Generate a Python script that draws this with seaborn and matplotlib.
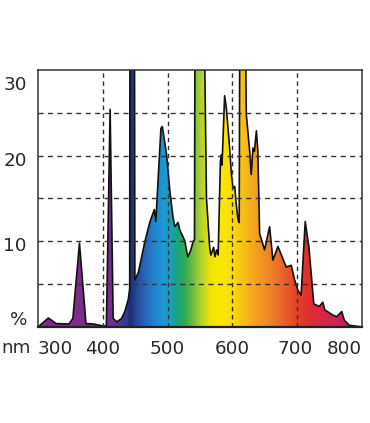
import numpy as np
import matplotlib
matplotlib.use("Agg")
import matplotlib.pyplot as plt
import seaborn as sns
import pandas as pd
from matplotlib.colors import LinearSegmentedColormap
from matplotlib.patches import Polygon

# ---- data ----
wavelength = [300, 316, 328, 347.7, 353.8, 364, 374, 385.6, 398.5, 404, 405.5, 411.3, 416, 421.6,
              429, 434, 439.5, 441.5, 442, 448.7, 449.5, 455, 465, 472.8, 479.5, 481.8, 489.7,
              491.8, 498.5, 503.6, 508, 511, 516, 519, 524, 526.7, 531, 535, 539.5, 541.5, 542.5,
              554.9, 560, 565, 566.8, 571, 573, 575.6, 578, 581.5, 583, 584, 588, 590.6, 594.9,
              598.5, 601, 603.6, 606, 608.7, 610.5, 611.8, 618.5, 621.5, 626.7, 629, 631.8, 634,
              637, 639.3, 642, 649.7, 657.4, 662.5, 670.3, 683, 690.8, 696, 701, 706, 712.4,
              716.4, 718, 725.6, 734, 739.5, 742.6, 754.8, 761, 768.8, 772.6, 780.5, 800]
intensity = [0, 1.05, 0.4, 0.35, 1.0, 9.8, 0.4, 0.35, 0.15, 0.1, 0.2, 25.4, 1.0, 0.6,
             1.0, 1.8, 3.3, 4.5, 45, 45, 5.5, 6.4, 10.0, 12.3, 13.7, 12.3, 23.2,
             23.4, 20.1, 15.8, 13.0, 11.7, 12.2, 11.3, 10.5, 10.0, 8.2, 8.8, 10.0, 10.2, 45,
             45, 15.0, 9.2, 8.4, 9.3, 8.2, 9.0, 8.4, 19.3, 20.1, 18.9, 27.0, 25.6, 21.7,
             17.8, 16.2, 16.4, 14.3, 12.5, 12.2, 45, 45, 24.8, 20.5, 17.8, 20.9, 20.5,
             22.9, 20.5, 10.9, 9.0, 11.7, 7.8, 9.4, 7.0, 7.2, 5.5, 4.3, 3.7, 12.3,
             10.2, 9.4, 2.7, 2.4, 2.9, 2.0, 1.4, 1.2, 1.8, 0.8, 0.2, 0]

y_label_pos = [1.1, 9.7, 19.6, 28.5]
y_labels = ["%", "10", "20", "30"]
x_label_pos = [327, 399, 499, 600, 697, 773]
x_labels = ["300", "400", "500", "600", "700", "800"]
x_grid = [400, 500, 600, 700]
y_grid = [5, 10, 15, 20, 25]

# spectral gradient stops (nm, colour)
grad_nm = [300, 405, 418, 428, 437, 442, 449, 458, 470, 482, 495, 506, 516, 527, 540,
           553, 566, 578, 600, 614, 632, 652, 672, 695, 715, 740, 770, 800]
grad_col = ["#7b2d8b", "#7b2d8b", "#6b2f8e", "#4b3592", "#2e3a8e", "#1f2a6b", "#24408f",
            "#2a55a8", "#2670bf", "#1f88cf", "#1b99d6", "#1a9fb0", "#1aa47a", "#30ab50",
            "#72bd40", "#b7d42c", "#ece400", "#fae800", "#fbe000", "#f8c414", "#f5a81e",
            "#f18c26", "#ec6e29", "#e6482a", "#e1302d", "#da2645", "#d01e58", "#c81a5e"]

# ---- figure ----
sns.set_theme(style="white")
plt.rcParams["font.family"] = ["DejaVu Sans"]
fig = plt.figure(figsize=(3.7, 4.23), dpi=100)
ax = fig.add_axes([38 / 370, (423 - 327) / 423, (362 - 38) / 370, (327 - 70) / 423])

xmin, xmax, ymin, ymax = 300, 800, 0, 30
ax.set_xlim(xmin, xmax)
ax.set_ylim(ymin, ymax)

df = pd.DataFrame({"nm": wavelength, "val": intensity})

# gradient fill clipped by the spectrum polygon
span = (xmax - xmin)
cmap = LinearSegmentedColormap.from_list(
    "spec", [((n - xmin) / span, c) for n, c in zip(grad_nm, grad_col)], N=1024)
grad = np.linspace(0, 1, 1000).reshape(1, -1)
im = ax.imshow(grad, cmap=cmap, extent=[xmin, xmax, ymin, 50], aspect="auto",
               origin="lower", zorder=1, interpolation="bilinear")
verts = list(zip(wavelength, intensity)) + [(wavelength[-1], 0), (wavelength[0], 0)]
poly = Polygon(verts, closed=True, transform=ax.transData, facecolor="none", edgecolor="none")
ax.add_patch(poly)
im.set_clip_path(poly)
ax.set_xlim(xmin, xmax)
ax.set_ylim(ymin, ymax)

# outline
sns.lineplot(data=df, x="nm", y="val", color="#111111", linewidth=1.2, sort=False,
             estimator=None, ax=ax, zorder=3)

# dashed grid on top
for g in x_grid:
    ax.axvline(g, color="#333333", lw=1.0, ls=(0, (3.2, 2.6)), zorder=4)
for g in y_grid:
    ax.axhline(g, color="#333333", lw=1.0, ls=(0, (3.6, 3.2)), zorder=4)

ax.set_xlabel("")
ax.set_ylabel("")
ax.set_xticks(x_label_pos)
ax.set_xticklabels(x_labels)
ax.set_yticks(y_label_pos)
ax.set_yticklabels(y_labels)
ax.tick_params(axis="both", length=0, labelsize=13.2, colors="#2a2a2a")
ax.tick_params(axis="x", pad=9)
ax.tick_params(axis="y", pad=8)
for s in ax.spines.values():
    s.set_color("#333333")
    s.set_linewidth(1.1)
    s.set_zorder(5)
ax.spines["bottom"].set_linewidth(1.6)
ax.spines["bottom"].set_color("#222222")

fig.text(16.5 / 370, 1 - 348 / 423, "nm", ha="center", va="center", fontsize=13.2,
         color="#2a2a2a")

fig.savefig("out.png", dpi=100, facecolor="white")
